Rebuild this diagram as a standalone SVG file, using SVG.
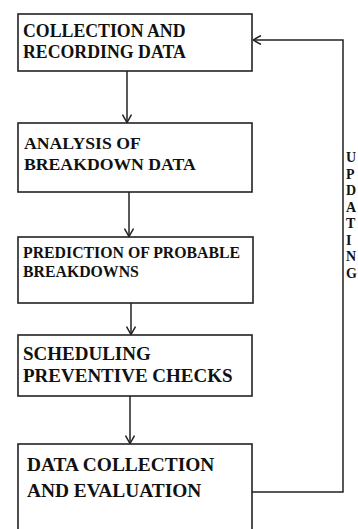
<svg xmlns="http://www.w3.org/2000/svg" width="358" height="529" viewBox="0 0 358 529">
<style>
.box{fill:#fff;stroke:#222;stroke-width:1.6}
.t{font-family:"Liberation Serif","Times New Roman",serif;font-weight:bold;fill:#111}
.c{fill:none;stroke:#222;stroke-width:1.5}
</style>
<defs>
<marker id="ah" viewBox="0 0 10 10" refX="10" refY="5" markerWidth="10" markerHeight="10" markerUnits="userSpaceOnUse" orient="auto">
<path d="M2,0.5 L10,5 L2,9.5" fill="none" stroke="#222" stroke-width="1.5"/>
</marker>
</defs>
<rect width="358" height="529" fill="#fff"/>
<g id="n1">
<rect class="box" x="18" y="14" width="234" height="57"/>
<text class="t" x="23" y="37" font-size="17.8">COLLECTION AND</text>
<text class="t" x="23" y="58" font-size="17.8">RECORDING DATA</text>
</g>
<g id="n2">
<rect class="box" x="18" y="123" width="234" height="69"/>
<text class="t" x="24" y="149" font-size="17.7">ANALYSIS OF</text>
<text class="t" x="24" y="170" font-size="17.7">BREAKDOWN DATA</text>
</g>
<g id="n3">
<rect class="box" x="18" y="237" width="235" height="66"/>
<text class="t" x="23" y="258" font-size="15.8">PREDICTION OF PROBABLE</text>
<text class="t" x="23" y="277" font-size="15.8">BREAKDOWNS</text>
</g>
<g id="n4">
<rect class="box" x="18" y="335" width="234" height="61"/>
<text class="t" x="23" y="360" font-size="19">SCHEDULING</text>
<text class="t" x="23" y="382" font-size="19">PREVENTIVE CHECKS</text>
</g>
<g id="n5">
<rect class="box" x="18" y="444" width="234" height="90"/>
<text class="t" x="27" y="471" font-size="19.4">DATA COLLECTION</text>
<text class="t" x="27" y="497" font-size="19.4">AND EVALUATION</text>
</g>
<g id="connectors">
<line class="c" x1="127" y1="71" x2="127" y2="122.5" marker-end="url(#ah)"/>
<line class="c" x1="129" y1="192" x2="129" y2="236.5" marker-end="url(#ah)"/>
<line class="c" x1="131" y1="303" x2="131" y2="334.5" marker-end="url(#ah)"/>
<line class="c" x1="130" y1="396" x2="130" y2="443.5" marker-end="url(#ah)"/>
<polyline class="c" points="252,492 343,492 343,40 253,40" marker-end="url(#ah)"/>
</g>
<g id="label-updating" class="t" font-size="14">
<text x="346" y="162">U</text>
<text x="346" y="178.5">P</text>
<text x="346" y="195">D</text>
<text x="346" y="211.5">A</text>
<text x="346" y="228">T</text>
<text x="346" y="244.5">I</text>
<text x="346" y="261">N</text>
<text x="346" y="277.5">G</text>
</g>
</svg>
